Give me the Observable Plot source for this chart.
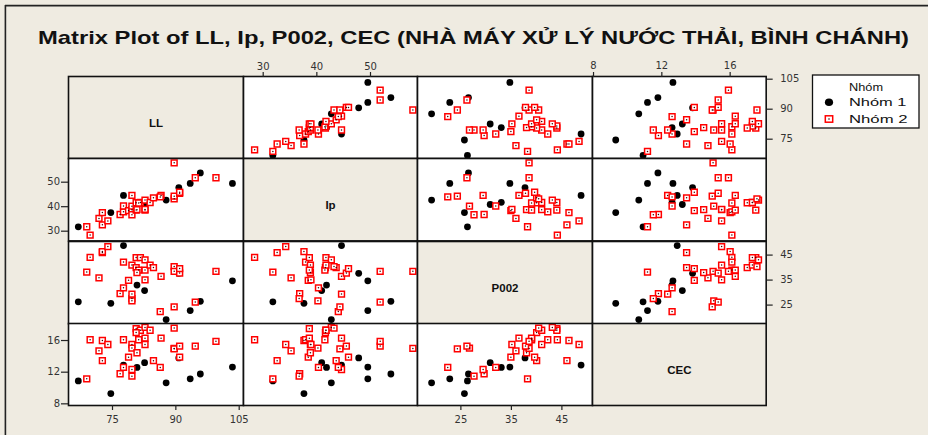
<!DOCTYPE html>
<html>
<head>
<meta charset="utf-8">
<script src="https://cdn.jsdelivr.net/npm/d3@7"></script>
<script src="https://cdn.jsdelivr.net/npm/@observablehq/plot@0.6"></script>
<style>
  html, body { margin: 0; padding: 0; background: #efebe1; }
  #chart { position: relative; width: 928px; height: 435px; background: #efebe1; overflow: hidden; }
  #chart > div.cell { position: absolute; }
  #overlay { position: absolute; left: 0; top: 0; }
</style>
</head>
<body>
<div id="chart"></div>
<script>
// ---------- data ----------
const variables = ["LL", "Ip", "P002", "CEC"];
const groupNames = ["Nhóm 1", "Nhóm 2"];
const legendTitle = "Nhóm";
const titleText = "Matrix Plot of LL, Ip, P002, CEC (NHÀ MÁY XỬ LÝ NƯỚC THẢI, BÌNH CHÁNH)";

// Nhóm 1 (black dots)
const LL_1   = [66.9, 74.6, 77.6, 80.8, 82.6, 87.7, 90.7, 93.4, 95.8, 103.4];
const Ip_1   = [31.8, 37.6, 44.6, 41.8, 40.9, 42.7, 47.8, 49.5, 53.8, 49.5];
const P002_1 = [26.3, 25.7, 48.8, 33.0, 30.8, 19.2, 37.7, 22.8, 26.5, 34.7];
const CEC_1  = [10.9, 9.3, 12.9, 12.6, 13.2, 10.65, 13.8, 11.16, 11.77, 12.65];

// Nhóm 2 (red squares)
const LL_2   = [68.9, 69.7, 71.8, 72.6, 72.6, 73.9, 76.8, 77.6, 77.6, 78.8, 79.6, 79.6, 79.6, 79.6, 80.6, 81.6, 80.6, 81.2, 80.8, 82.7, 82.7, 82.7, 83.9, 84.7, 86.5, 86.3, 89.6, 89.6, 89.6, 90.9, 90.9, 94.6, 99.5];
const Ip_2   = [31.8, 28.4, 35.2, 32.6, 37.6, 34.2, 36.8, 37.9, 40.3, 38.4, 38.8, 36.7, 40.2, 44.6, 38.6, 41.7, 41.6, 41.5, 38.8, 42.7, 38.6, 38.9, 41.7, 43.6, 44.6, 44.0, 43.2, 57.9, 44.3, 45.5, 45.9, 51.8, 51.8];
const P002_2 = [38.2, 44.1, 35.9, 46.0, 46.4, 48.4, 29.6, 42.2, 31.9, 34.9, 41.0, 27.6, 26.7, 29.4, 44.0, 44.0, 40.0, 39.0, 38.0, 43.1, 39.0, 35.1, 41.0, 40.0, 36.5, 22.4, 40.4, 38.5, 24.3, 37.8, 39.6, 26.2, 38.5];
const CEC_2  = [11.16, 16.1, 14.7, 13.45, 16.0, 15.5, 11.8, 16.1, 12.6, 13.9, 15.5, 11.5, 15.04, 12.34, 17.5, 17.3, 17.0, 16.1, 14.45, 17.66, 16.3, 15.5, 17.3, 13.45, 16.3, 12.6, 17.57, 15.0, 14.95, 15.3, 13.9, 15.3, 15.9];

// tick labels
const ticksLL   = [75, 90, 105];
const ticksIp   = [30, 40, 50];
const ticksP002 = [25, 35, 45];
const ticksCEC  = [8, 12, 16];

// ---------- derived tables ----------
const group1 = LL_1.map((v, i) => ({LL: v, Ip: Ip_1[i], P002: P002_1[i], CEC: CEC_1[i], group: groupNames[0]}));
const group2 = LL_2.map((v, i) => ({LL: v, Ip: Ip_2[i], P002: P002_2[i], CEC: CEC_2[i], group: groupNames[1]}));
const ticks = {LL: ticksLL, Ip: ticksIp, P002: ticksP002, CEC: ticksCEC};

// ---------- layout ----------
const BG = "#efebe1";
const cellX = [68.3, 243.3, 417.3, 592.3, 766];
const cellY = [76.3, 158.3, 240.7, 323, 405];
const xDomains = {LL: [64.58, 106.02], Ip: [26.33, 58.76], P002: [16.41, 51.06], CEC: [7.94, 18.11]};
const yDomains = {LL: [65.35, 106.35], Ip: [26.04, 59.67], P002: [17.52, 50.44], CEC: [7.79, 18.15]};
const rowAxis = ["right", "left", "right", "left"];
const colAxis = ["bottom", "top", "bottom", "top"];
const tickFont = {fontSize: 10, fontFamily: "DejaVu Sans"};
const PAD = 40;

const chart = d3.select("#chart");

// overlay: border lines, title, legend
const ov = chart.append("svg").attr("id", "overlay").attr("width", 928).attr("height", 435);
ov.append("line").attr("x1", 5).attr("x2", 928).attr("y1", 5.6).attr("y2", 5.6).attr("stroke", "#222").attr("stroke-width", 1.6);
ov.append("line").attr("x1", 5.4).attr("x2", 5.4).attr("y1", 5).attr("y2", 435).attr("stroke", "#222").attr("stroke-width", 1.6);
ov.append("text").attr("x", 38).attr("y", 44)
  .attr("textLength", 871).attr("lengthAdjust", "spacingAndGlyphs")
  .attr("fill", "#111")
  .style("font", "bold 19px 'Liberation Sans', Arial, sans-serif")
  .text(titleText);

const lg = ov.append("g");
lg.append("rect").attr("x", 812.5).attr("y", 75).attr("width", 106.5).attr("height", 53)
  .attr("fill", "white").attr("stroke", "#111").attr("stroke-width", 1.3);
const lgFont = "11px 'Liberation Sans', Arial, sans-serif";
lg.append("text").attr("x", 849).attr("y", 91).attr("textLength", 34).attr("lengthAdjust", "spacingAndGlyphs")
  .style("font", lgFont).attr("fill", "#111").text(legendTitle);
lg.append("text").attr("x", 849).attr("y", 106).attr("textLength", 57.5).attr("lengthAdjust", "spacingAndGlyphs")
  .style("font", lgFont).attr("fill", "#111").text(groupNames[0]);
lg.append("text").attr("x", 849).attr("y", 122.7).attr("textLength", 58.5).attr("lengthAdjust", "spacingAndGlyphs")
  .style("font", lgFont).attr("fill", "#111").text(groupNames[1]);
lg.append("ellipse").attr("cx", 829).attr("cy", 102.3).attr("rx", 4.1).attr("ry", 3.8).attr("fill", "black");
lg.append("rect").attr("x", 825.3).attr("y", 115.8).attr("width", 7.4).attr("height", 6.4)
  .attr("fill", "white").attr("stroke", "red").attr("stroke-width", 1.5);
lg.append("circle").attr("cx", 829).attr("cy", 119).attr("r", 0.8).attr("fill", "#400");

// ---------- cells ----------
for (let r = 0; r < 4; r++) {
  for (let c = 0; c < 4; c++) {
    const w = cellX[c + 1] - cellX[c];
    const h = cellY[r + 1] - cellY[r];
    const xv = variables[c], yv = variables[r];
    let marks = [];
    let opts = {
      width: w + 2 * PAD, height: h + 2 * PAD,
      marginLeft: PAD, marginRight: PAD, marginTop: PAD, marginBottom: PAD,
      style: {background: "transparent", overflow: "visible", color: "#222", maxWidth: "none", fontFamily: "DejaVu Sans"}
    };
    if (r === c) {
      marks = [
        Plot.frame({fill: BG, stroke: "none"}),
        Plot.text([xv], {frameAnchor: "middle", text: d => d, dy: 6, fontSize: 11.5, fontWeight: "bold",
                         fontFamily: "Liberation Sans", fill: "#111"}),
        Plot.frame({stroke: "#111", strokeWidth: 1.6})
      ];
    } else {
      const hasX = (colAxis[c] === "bottom" && r === 3) || (colAxis[c] === "top" && r === 0);
      const hasY = (rowAxis[r] === "right" && c === 3) || (rowAxis[r] === "left" && c === 0);
      opts.x = {domain: xDomains[xv]};
      opts.y = {domain: yDomains[yv]};
      if (!hasX) opts.x.axis = null;
      if (!hasY) opts.y.axis = null;
      marks = [
        Plot.frame({fill: "white", stroke: "none"}),
        Plot.dot(group1, {x: xv, y: yv, r: 3.4, fill: "black", stroke: "none"}),
        Plot.dot(group2, {x: xv, y: yv, symbol: "square", r: 3.3, fill: "white", stroke: "red", strokeWidth: 1.5}),
        Plot.dot(group2, {x: xv, y: yv, r: 0.75, fill: "#400", stroke: "none"}),
        Plot.frame({stroke: "#111", strokeWidth: 1.6})
      ];
      if (hasX) {
        const top = colAxis[c] === "top";
        marks.push(Plot.axisX(ticks[xv], {anchor: colAxis[c], tickSize: 5, tickPadding: top ? 2 : 5,
          label: null, strokeWidth: 1.2, fill: "#333", ...tickFont}));
      }
      if (hasY) {
        const right = rowAxis[r] === "right";
        marks.push(Plot.axisY(ticks[yv], {anchor: rowAxis[r], tickSize: right ? 6 : 7, tickPadding: right ? 8 : 1.5,
          label: null, strokeWidth: 1.2, fill: "#333", ...tickFont}));
      }
    }
    opts.marks = marks;
    const svg = Plot.plot(opts);
    chart.append("div").attr("class", "cell")
      .style("left", (cellX[c] - PAD) + "px").style("top", (cellY[r] - PAD) + "px")
      .style("width", (w + 2 * PAD) + "px").style("height", (h + 2 * PAD) + "px")
      .node().appendChild(svg);
  }
}
</script>
</body>
</html>
